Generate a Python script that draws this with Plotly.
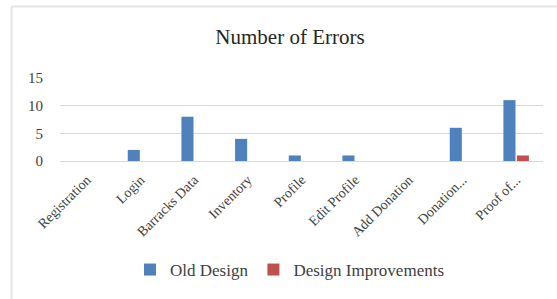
import plotly.graph_objects as go

categories = ["Registration", "Login", "Barracks Data", "Inventory", "Profile",
              "Edit Profile", "Add Donation", "Donation...", "Proof of..."]
old_design = [0, 2, 8, 4, 1, 1, 0, 6, 11]
design_improvements = [0, 0, 0, 0, 0, 0, 0, 0, 1]
y_ticks = [0, 5, 10, 15]

W, H = 557, 299
L, R, T, B = 60, 14, 78, 138
pw, ph = W - L - R, H - T - B

def px(x):
    return (x - L) / pw

def py(y):
    return (H - B - y) / ph

FONT = "Liberation Serif"

fig = go.Figure()
fig.add_trace(go.Bar(x=categories, y=old_design, name="Old Design",
                     marker=dict(color="#4F81BD", line=dict(width=0))))
fig.add_trace(go.Bar(x=categories, y=design_improvements, name="Design Improvements",
                     marker=dict(color="#C0504D", line=dict(width=0))))

fig.update_layout(
    width=W, height=H,
    margin=dict(l=L, r=R, t=T, b=B),
    paper_bgcolor="white", plot_bgcolor="white",
    barmode="group", bargap=0.5, bargroupgap=0.1,
    font=dict(family=FONT, color="#404040"),
    title=dict(text="Number of Errors", x=290 / W, xanchor="center",
               y=1 - 37 / H, yanchor="middle",
               font=dict(family=FONT, size=21, color="#262626")),
    legend=dict(orientation="h", xref="container", x=290 / W, xanchor="center",
                yref="container", y=1 - 270 / H, yanchor="middle",
                font=dict(family=FONT, size=17, color="#404040"),
                itemwidth=30, traceorder="normal"),
    showlegend=True,
)
fig.update_xaxes(tickangle=-45, tickfont=dict(family=FONT, size=14, color="#404040"),
                 showgrid=False, showline=False, ticks="", ticklabelstandoff=7)
fig.update_yaxes(range=[0, 15], tickvals=y_ticks, showgrid=True, gridcolor="#D9D9D9",
                 gridwidth=1, zeroline=True, zerolinecolor="#D9D9D9", zerolinewidth=1,
                 tickfont=dict(family=FONT, size=15, color="#404040"), ticks="",
                 ticklabelstandoff=16, showline=False)

border = "#E4E4E4"
fig.add_shape(type="line", xref="paper", yref="paper",
              x0=px(11.5), x1=px(W + 5), y0=py(6.5), y1=py(6.5),
              line=dict(color=border, width=2))
fig.add_shape(type="line", xref="paper", yref="paper",
              x0=px(11.5), x1=px(11.5), y0=py(6.5), y1=py(H + 5),
              line=dict(color=border, width=2))

fig.write_html("out.html", config={"displayModeBar": False},
               post_script="document.body.style.margin='0';")
